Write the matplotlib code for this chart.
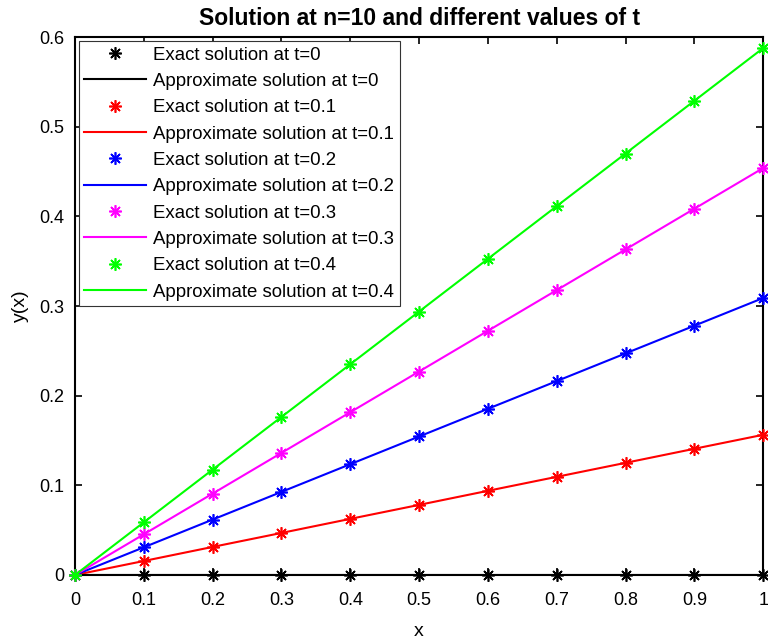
import matplotlib
matplotlib.use("Agg")
import matplotlib.pyplot as plt

plt.rcParams["font.family"] = ["Liberation Sans", "DejaVu Sans"]

# x grid (n=10)
x = [0, 0.1, 0.2, 0.3, 0.4, 0.5, 0.6, 0.7, 0.8, 0.9, 1.0]

# solution values for each t
t_labels = ["0", "0.1", "0.2", "0.3", "0.4"]
y_t0 = [0, 0, 0, 0, 0, 0, 0, 0, 0, 0, 0]
y_t01 = [0, 0.0156, 0.0313, 0.0469, 0.0626, 0.0782, 0.0939, 0.1095, 0.1251, 0.1408, 0.1564]
y_t02 = [0, 0.0309, 0.0618, 0.0927, 0.1236, 0.1545, 0.1854, 0.2163, 0.2472, 0.2781, 0.3090]
y_t03 = [0, 0.0454, 0.0908, 0.1362, 0.1816, 0.2270, 0.2724, 0.3178, 0.3632, 0.4086, 0.4540]
y_t04 = [0, 0.0588, 0.1176, 0.1763, 0.2351, 0.2939, 0.3527, 0.4115, 0.4702, 0.5290, 0.5878]
series = [y_t0, y_t01, y_t02, y_t03, y_t04]
colors = ["#000000", "#ff0000", "#0000ff", "#ff00ff", "#00ff00"]

fig = plt.figure(figsize=(7.68, 6.41), dpi=100)
ax = fig.add_axes([0.0977, 0.103, 0.896, 0.839])

asterisk = (8, 2, 0)
for t, y, c in zip(t_labels, series, colors):
    ax.plot(x, y, linestyle="none", marker=asterisk, markersize=9,
            markeredgewidth=1.2, color=c, label=f"Exact solution at t={t}",
            clip_on=False, zorder=3)
    ax.plot(x, y, "-", color=c, linewidth=1.5,
            label=f"Approximate solution at t={t}", zorder=2)

ax.set_xlim(0, 1)
ax.set_ylim(0, 0.6)
ax.set_xticks([0, 0.1, 0.2, 0.3, 0.4, 0.5, 0.6, 0.7, 0.8, 0.9, 1])
ax.set_xticklabels(["0", "0.1", "0.2", "0.3", "0.4", "0.5", "0.6", "0.7", "0.8", "0.9", "1"])
ax.set_yticks([0, 0.1, 0.2, 0.3, 0.4, 0.5, 0.6])
ax.set_yticklabels(["0", "0.1", "0.2", "0.3", "0.4", "0.5", "0.6"])
ax.tick_params(direction="in", top=True, right=True, length=5, width=1.2,
               labelsize=13)
ax.tick_params(axis="x", pad=12)
ax.tick_params(axis="y", pad=8)
for sp in ax.spines.values():
    sp.set_linewidth(1.5)

ax.set_xlabel("x", fontsize=14, labelpad=10)
ax.set_ylabel("y(x)", fontsize=14, labelpad=7)
ax.set_title("Solution at n=10 and different values of t", fontsize=16.5,
             fontweight="bold", pad=9)

leg = ax.legend(loc="upper left", fontsize=13.4, fancybox=False, framealpha=1,
                edgecolor="#333333", handlelength=3.3, labelspacing=0.5,
                borderaxespad=0.2, borderpad=0.3, handletextpad=0.4)
leg.get_frame().set_linewidth(0.8)

fig.savefig("out.png", dpi=100)
